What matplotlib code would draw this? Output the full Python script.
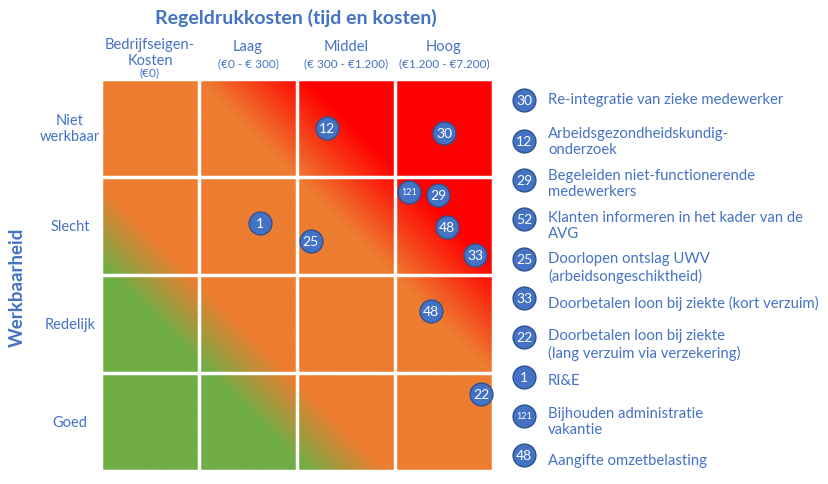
import numpy as np
import matplotlib.pyplot as plt
from matplotlib.colors import LinearSegmentedColormap

# Data
col_labels = ["Bedrijfseigen-\nKosten", "Laag", "Middel", "Hoog"]
col_sub = ["(€0)", "(€0 - € 300)", "(€ 300 - €1.200)", "(€1.200 - €7.200)"]
row_labels = ["Goed", "Redelijk", "Slecht", "Niet\nwerkbaar"]

# bubbles in grid units (x: cost, y: workability, 0..4)
bubble_ids = ["12", "30", "121", "29", "1", "25", "48", "33", "48", "22"]
bubble_x = [2.31, 3.50, 3.14, 3.44, 1.62, 2.14, 3.53, 3.82, 3.37, 3.88]
bubble_y = [3.50, 3.45, 2.85, 2.82, 2.53, 2.35, 2.49, 2.20, 1.63, 0.79]

legend_ids = ["30", "12", "29", "52", "25", "33", "22", "1", "121", "48"]
legend_texts = [
    "Re-integratie van zieke medewerker",
    "Arbeidsgezondheidskundig-\nonderzoek",
    "Begeleiden niet-functionerende\nmedewerkers",
    "Klanten informeren in het kader van de\nAVG",
    "Doorlopen ontslag UWV\n(arbeidsongeschiktheid)",
    "Doorbetalen loon bij ziekte (kort verzuim)",
    "Doorbetalen loon bij ziekte\n(lang verzuim via verzekering)",
    "RI&E",
    "Bijhouden administratie\nvakantie",
    "Aangifte omzetbelasting",
]
legend_bub_y = [101, 142, 181, 220, 260, 299, 338, 378, 417, 456]
legend_txt_y = [100, 142, 184, 226, 268, 303, 345, 381, 422, 461]

blue = "#4472C4"
dark = "#2F528F"
font = "Lato"

fig = plt.figure(figsize=(8.29, 4.85), dpi=100)
W, H = 829, 485

# grid axes
ax = fig.add_axes([101 / W, 1 - 472 / H, 392 / W, 392 / H])
cmap = LinearSegmentedColormap.from_list("risk", [
    (0, "#70AD47"), (2.1 / 8, "#70AD47"), (2.9 / 8, "#ED7D31"),
    (5.0 / 8, "#ED7D31"), (6.1 / 8, "#FF0000"), (1, "#FF0000")])
g = np.linspace(0, 4, 400)
X, Y = np.meshgrid(g, g)
ax.imshow(X + Y, cmap=cmap, vmin=0, vmax=8, origin="lower",
          extent=(0, 4, 0, 4), aspect="auto", interpolation="bilinear")
for v in range(5):
    ax.axvline(v, color="white", lw=2.5)
    ax.axhline(v, color="white", lw=2.5)
ax.set_xlim(0, 4)
ax.set_ylim(0, 4)
ax.axis("off")

ax.scatter(bubble_x, bubble_y, s=270, color=blue, edgecolor=dark, lw=1, zorder=3)
for b, x, y in zip(bubble_ids, bubble_x, bubble_y):
    ax.text(x, y, b, color="white", fontsize=6.5 if len(b) > 2 else 10,
            ha="center", va="center", family=font, zorder=4)

# overlay in pixel coordinates for labels and legend
ov = fig.add_axes([0, 0, 1, 1], zorder=5)
ov.set_xlim(0, W)
ov.set_ylim(H, 0)
ov.axis("off")
ov.patch.set_alpha(0)

ov.text(296, 18, "Regeldrukkosten (tijd en kosten)", color=blue, fontsize=14,
        fontweight="bold", ha="center", va="center", family=font)
ov.text(17, 287, "Werkbaarheid", color=blue, fontsize=13.5, fontweight="bold",
        rotation=90, ha="center", va="center", family=font)

for i, (lab, sub) in enumerate(zip(col_labels, col_sub)):
    cx = 150 + 98 * i
    if i == 0:
        ov.text(cx, 53, lab, color=blue, fontsize=10.5, ha="center", va="center",
                family=font, linespacing=1.1)
        ov.text(cx, 73, sub, color=blue, fontsize=8.5, ha="center", va="center", family=font)
    else:
        ov.text(cx, 47, lab, color=blue, fontsize=10.5, ha="center", va="center", family=font)
        ov.text(cx, 64, sub, color=blue, fontsize=8.5, ha="center", va="center", family=font)

for i, lab in enumerate(row_labels):
    cy = 423 - 98 * i
    ov.text(70, cy, lab, color=blue, fontsize=10.5, ha="center", va="center",
            family=font, linespacing=1.2)

ov.scatter([524] * len(legend_ids), legend_bub_y, s=270, color=blue,
           edgecolor=dark, lw=1, zorder=3)
for b, by, t, ty in zip(legend_ids, legend_bub_y, legend_texts, legend_txt_y):
    ov.text(524, by, b, color="white", fontsize=6.5 if len(b) > 2 else 10,
            ha="center", va="center", family=font, zorder=4)
    ov.text(548, ty, t, color=blue, fontsize=10.7, ha="left", va="center",
            family=font, linespacing=1.25)

fig.savefig("out.png", dpi=100)
